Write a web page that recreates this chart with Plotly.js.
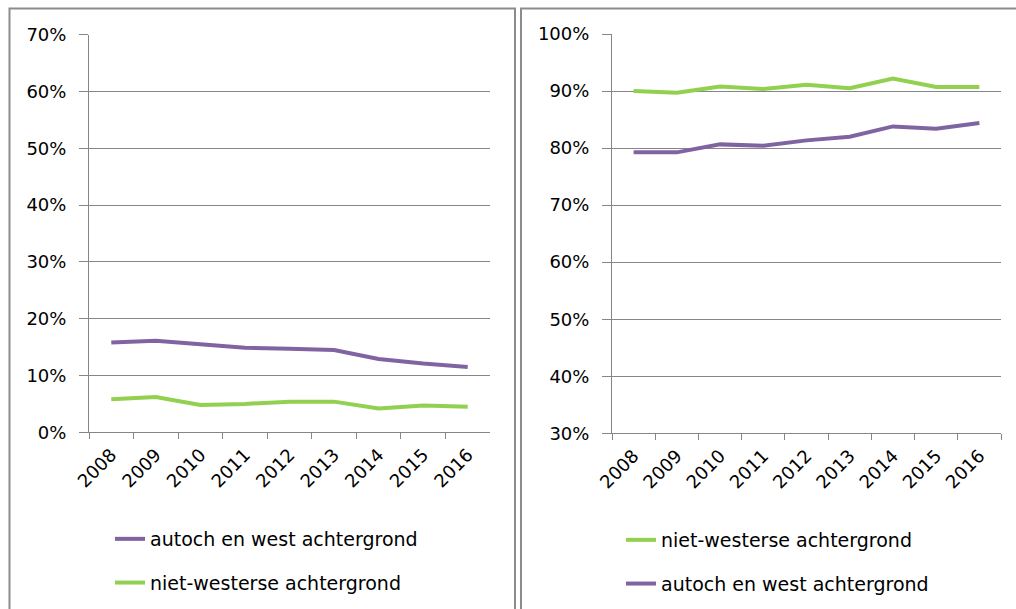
<!DOCTYPE html>
<html>
<head>
<meta charset="utf-8">
<script src="https://cdn.plot.ly/plotly-3.0.1.min.js"></script>
<style>html,body{margin:0;padding:0;background:#fff;}#chart{width:1016px;height:609px;}</style>
</head>
<body>
<div id="chart"></div>
<script>
const years = ['2008','2009','2010','2011','2012','2013','2014','2015','2016'];
const seriesNames = ['autoch en west achtergrond', 'niet-westerse achtergrond'];
// Left panel (%)
const leftAutoch = [15.8, 16.1, 15.5, 14.9, 14.7, 14.5, 12.9, 12.1, 11.5];
const leftNietWesters = [5.8, 6.2, 4.8, 5.0, 5.4, 5.4, 4.2, 4.7, 4.5];
// Right panel (%)
const rightNietWesters = [90.0, 89.7, 90.8, 90.35, 91.1, 90.5, 92.2, 90.7, 90.7];
const rightAutoch = [79.25, 79.25, 80.65, 80.4, 81.35, 82.0, 83.8, 83.4, 84.4];
const leftTicks = [0, 10, 20, 30, 40, 50, 60, 70];
const rightTicks = [30, 40, 50, 60, 70, 80, 90, 100];

const purple = '#8064A2', green = '#92D050', gray = '#868686';
const W = 1016, H = 609;
const FONT = 'DejaVu Sans, sans-serif';

function line(x, y, name, color, xa, ya, leg, grp) {
  return {x: x, y: y, name: name, type: 'scatter', mode: 'lines', xaxis: xa, yaxis: ya,
    legend: leg, legendgroup: grp, line: {color: color, width: 4}, hoverinfo: 'skip'};
}
const traces = [
  line(years, leftAutoch, seriesNames[0], purple, 'x', 'y', 'legend', 'a'),
  line(years, leftNietWesters, seriesNames[1], green, 'x', 'y', 'legend', 'b'),
  line(years, rightNietWesters, seriesNames[1], green, 'x2', 'y2', 'legend2', 'c'),
  line(years, rightAutoch, seriesNames[0], purple, 'x2', 'y2', 'legend2', 'd')
];

function xax(d0, d1, anchor) {
  return {domain: [d0 / W, d1 / W], anchor: anchor, type: 'category', tickson: 'boundaries',
    range: [-0.5, years.length - 0.5], autorange: false,
    ticks: 'outside', ticklen: 6, tickwidth: 1, tickcolor: gray, showline: true, linecolor: gray, linewidth: 1,
    showgrid: false, tickangle: -45, ticklabelstandoff: 4,
    tickfont: {family: FONT, size: 18, color: '#000'}, fixedrange: true};
}
function yax(top, bottom, range, tv, anchor) {
  return {domain: [1 - bottom / H, 1 - top / H], anchor: anchor, range: range, autorange: false,
    tickmode: 'array', tickvals: tv, ticktext: tv.map(v => v + '%'),
    ticks: 'outside', ticklen: 9, tickwidth: 1, tickcolor: gray, showline: true,
    linecolor: gray, linewidth: 1, showgrid: true, gridcolor: gray, gridwidth: 1, zeroline: false,
    ticklabelstandoff: 9, tickfont: {family: FONT, size: 18, color: '#000'}, fixedrange: true};
}

const layout = {
  width: W, height: H, margin: {l: 0, r: 0, t: 0, b: 0},
  paper_bgcolor: '#fff', plot_bgcolor: 'rgba(0,0,0,0)', showlegend: true,
  font: {family: FONT, color: '#000'},
  xaxis: xax(89, 490, 'y'),
  yaxis: yax(34.7, 432.3, [0, 70], leftTicks, 'x'),
  xaxis2: xax(612, 1001, 'y2'),
  yaxis2: yax(34, 433.3, [30, 100], rightTicks, 'x2'),
  legend: {x: 110 / W, y: 1 - 520 / H, xanchor: 'left', yanchor: 'top', tracegroupgap: 16,
    font: {family: FONT, size: 19, color: '#000'}, bgcolor: 'rgba(0,0,0,0)'},
  legend2: {x: 621 / W, y: 1 - 521 / H, xanchor: 'left', yanchor: 'top', tracegroupgap: 16,
    font: {family: FONT, size: 19, color: '#000'}, bgcolor: 'rgba(0,0,0,0)'},
  shapes: [
    {type: 'rect', xref: 'paper', yref: 'paper', x0: 9.5 / W, x1: 515 / W, y0: -0.1, y1: 1 - 8.5 / H,
      line: {color: '#8c8c8c', width: 2}, fillcolor: 'rgba(0,0,0,0)', layer: 'below'},
    {type: 'rect', xref: 'paper', yref: 'paper', x0: 521 / W, x1: 1.1, y0: -0.1, y1: 1 - 8.5 / H,
      line: {color: '#8c8c8c', width: 2}, fillcolor: 'rgba(0,0,0,0)', layer: 'below'}
  ]
};

Plotly.newPlot('chart', traces, layout, {displayModeBar: false, staticPlot: true});
</script>
</body>
</html>
